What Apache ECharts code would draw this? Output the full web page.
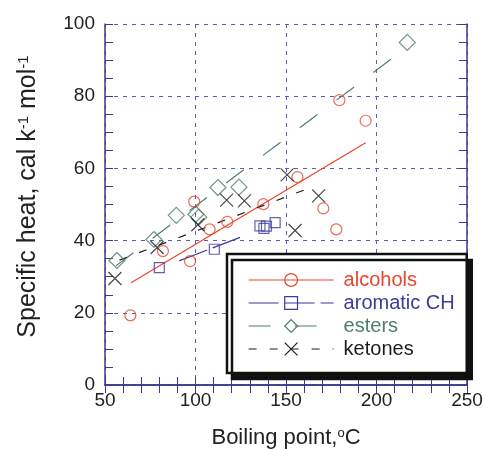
<!DOCTYPE html>
<html>
<head>
<meta charset="utf-8">
<script src="https://cdn.jsdelivr.net/npm/echarts@6/dist/echarts.min.js"></script>
<style>
  html, body { margin: 0; padding: 0; background: #fff; }
  #main { width: 484px; height: 449px; }
</style>
</head>
<body>
<div id="main"></div>
<script>
// measured points [boiling point °C, specific heat]
var alcohols = [[64, 19.3], [82, 37.1], [97, 34.3], [99.3, 50.8], [107.8, 43.1], [117.6, 45.2],
                [137.5, 50.1], [156.3, 57.6], [170.6, 48.9], [177.8, 43.1], [179.5, 78.9], [194, 73.2]];
var aromatics = [[80, 32.5], [110.4, 37.6], [135.6, 44.1], [137.8, 43.4], [139.2, 44], [144, 45]];
var esters = [[56.6, 34.5], [77, 40.3], [89.4, 47], [100.2, 47.3], [101.8, 46.5],
              [112.4, 54.7], [124, 54.8], [217, 94.9]];
var ketones = [[55.5, 29.5], [78.8, 38.1], [101.3, 44.4], [117.2, 51.2], [127, 51],
               [150.6, 58.2], [155, 42.8], [168, 52.4]];

// fitted trend lines (end points)
var alcoholsFit = [[64.4, 28.3], [194, 67.1]];
var aromaticsFit = [[91, 34.4], [124.6, 40.9]];
var estersFit = [[56, 33], [214, 92.5]];
var ketonesFit = [[58, 34.6], [161, 54.2]];

var names = ['alcohols', 'aromatic CH', 'esters', 'ketones'];
var colors = ['#e8452f', '#3b3b9c', '#4f7d69', '#1c1c1c'];

var font = 'Liberation Sans, Arial, Helvetica, sans-serif';
var axisColor = '#3a3a8e';
var crossPath = 'path://M0,0L10,10M10,0L0,10';

var myChart = echarts.init(document.getElementById('main'));

function fitSeries(name, data, color, symbol, dash)
{
    return {
        name: name,
        type: 'line',
        data: data,
        symbol: symbol,
        showSymbol: false,
        silent: true,
        z: 2,
        lineStyle: { color: color, width: 1.2, type: dash },
        itemStyle: { color: color }
    };
}

function pointSeries(name, data, color, symbol, size)
{
    return {
        name: name,
        type: 'scatter',
        data: data,
        symbol: symbol,
        symbolSize: size,
        z: 3,
        itemStyle: { color: 'rgba(0,0,0,0)', borderColor: color, borderWidth: 1.2 }
    };
}

// frame axes: ticks pointing inward on all four sides
function frameAxis(extra)
{
    var axis = {
        type: 'value',
        axisLine: { show: true, lineStyle: { color: axisColor, width: 1.5 } },
        axisTick: { show: true, inside: true, length: 8, lineStyle: { color: axisColor, width: 1 } },
        minorTick: { show: true, length: 8, lineStyle: { color: axisColor, width: 1 } },
        axisLabel: { show: false },
        splitLine: { show: false }
    };
    for (var k in extra)
    {
        axis[k] = extra[k];
    }
    return axis;
}

var legendData = names.map(function (n, i)
{
    return {
        name: n,
        textStyle: { color: colors[i] },
        itemStyle: { color: 'rgba(0,0,0,0)', borderColor: colors[i], borderWidth: 1.2 }
    };
});

var splitStyle = { show: true, lineStyle: { color: '#5c5cb0', width: 1, type: [4, 5] } };
var labelStyle = { show: true, color: '#222', fontFamily: font, fontSize: 19 };

option = 
{
    animation: false,
    grid: { left: 105, right: 17, top: 24, bottom: 64, outerBoundsMode: 'none', containLabel: false },
    legend:
    {
        orient: 'vertical',
        left: 227,
        top: 254,
        padding: [16, 12, 14, 21],
        itemWidth: 85,
        itemHeight: 16,
        itemGap: 3,
        selectedMode: false,
        backgroundColor: '#fff',
        borderColor: '#111',
        borderWidth: 2.5,
        shadowColor: '#111',
        shadowBlur: 0,
        shadowOffsetX: 5,
        shadowOffsetY: 6,
        lineStyle: { width: 1.2 },
        textStyle: { fontFamily: font, fontSize: 20, lineHeight: 20, padding: [0, 0, 0, 5] },
        data: legendData
    },
    xAxis: [
        frameAxis({
            position: 'bottom',
            min: 50, max: 250, interval: 50,
            minorTick: { show: true, splitNumber: 5, length: 8, lineStyle: { color: axisColor, width: 1 } },
            name: 'Boiling point,{sup|o}C',
            nameLocation: 'middle',
            nameGap: 42,
            nameTextStyle:
            {
                color: '#222', fontFamily: font, fontSize: 22,
                rich: { sup: { color: '#222', fontFamily: font, fontSize: 13, verticalAlign: 'top' } }
            },
            axisLabel: Object.assign({ margin: 6 }, labelStyle),
            splitLine: splitStyle
        }),
        frameAxis({
            position: 'top',
            min: 50, max: 250, interval: 50,
            minorTick: { show: true, splitNumber: 5, length: 8, lineStyle: { color: axisColor, width: 1 } }
        })
    ],
    yAxis: [
        frameAxis({
            position: 'left',
            min: 0, max: 100, interval: 20,
            minorTick: { show: true, splitNumber: 4, length: 8, lineStyle: { color: axisColor, width: 1 } },
            name: 'Specific heat, cal k{sup|-1} mol{sup|-1}',
            nameLocation: 'middle',
            nameGap: 64,
            nameTextStyle:
            {
                color: '#222', fontFamily: font, fontSize: 25, padding: [0, 0, 0, 16],
                rich: { sup: { color: '#222', fontFamily: font, fontSize: 15, verticalAlign: 'top' } }
            },
            axisLabel: Object.assign({ margin: 10 }, labelStyle),
            splitLine: splitStyle
        }),
        frameAxis({
            position: 'right',
            min: 0, max: 100, interval: 20,
            minorTick: { show: true, splitNumber: 4, length: 8, lineStyle: { color: axisColor, width: 1 } }
        })
    ],
    series: [
        fitSeries(names[0], alcoholsFit, colors[0], 'circle', 'solid'),
        fitSeries(names[1], aromaticsFit, colors[1], 'rect', [30, 6]),
        fitSeries(names[2], estersFit, colors[2], 'diamond', [22, 24]),
        fitSeries(names[3], ketonesFit, colors[3], crossPath, [8, 13]),
        pointSeries(names[0], alcohols, colors[0], 'circle', 11),
        pointSeries(names[1], aromatics, colors[1], 'rect', 10),
        pointSeries(names[2], esters, colors[2], 'diamond', 16),
        pointSeries(names[3], ketones, colors[3], crossPath, 13)
    ]
};

myChart.setOption(option);
</script>
</body>
</html>
